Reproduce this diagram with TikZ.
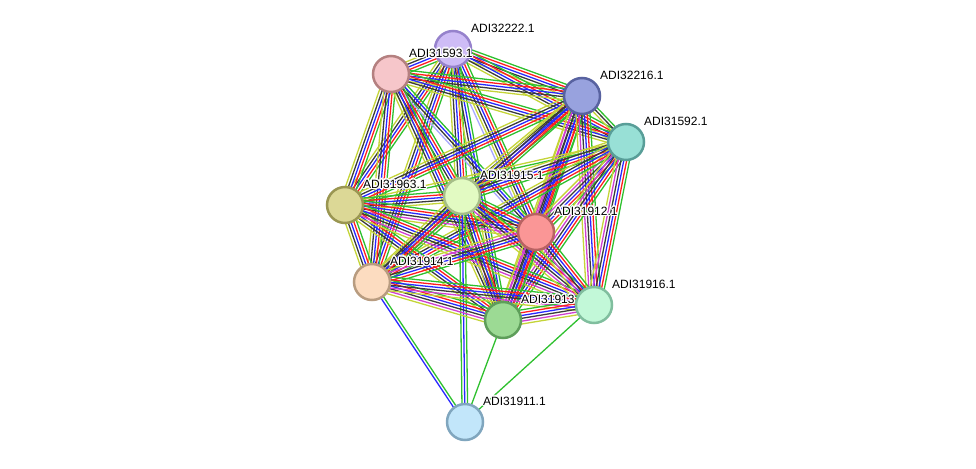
\documentclass[tikz,border=0pt]{standalone}
\usepackage{fontspec}
\setmainfont{Liberation Sans}
\usetikzlibrary{calc}
\pgfdeclarelayer{edges}
\pgfsetlayers{edges,main}
\definecolor{eg}{HTML}{2EC02E}
\definecolor{er}{HTML}{FF1E1E}
\definecolor{eb}{HTML}{2828FF}
\definecolor{ek}{HTML}{3A3A3A}
\definecolor{em}{HTML}{D040D0}
\definecolor{ey}{HTML}{C4D438}
\definecolor{el}{HTML}{A8A8FF}
\newcommand{\bundle}[3]{%
  \foreach \c [count=\i] in {#3} {\xdef\nn{\i}}%
  \foreach \c [count=\i] in {#3} {%
    \pgfmathsetmacro\off{(\i-(\nn+1)/2)*2.8}%
    \draw[conn,\c] ($(#1)!\off pt!90:(#2)$) -- ($(#2)!\off pt!-90:(#1)$);
  }}
\newcommand{\plabel}[2]{%
  \foreach \dx/\dy in {-1.3/0,1.3/0,0/-1.3,0/1.3,-0.9/-0.9,0.9/0.9,-0.9/0.9,0.9/-0.9,-0.6/0,0.6/0,0/0.6,0/-0.6}
    {\node[lbl,white] at ($(#1)+(18+\dx,-21+\dy)$) {#2};}
  \node[lbl] (#1lab) at ($(#1)+(18,-21)$) {#2};}
\tikzset{
  prot/.style={circle, minimum size=36pt, inner sep=0pt, line width=2.5pt},
  lbl/.style={anchor=west, inner sep=0pt, font=\fontsize{12}{14}\selectfont},
  conn/.style={line width=1.3pt}
}
\begin{document}
\begin{tikzpicture}[x=1pt,y=-1pt]
\useasboundingbox (0,0) rectangle (976,468);
\node[prot, fill={rgb,255:red,206;green,188;blue,246}, draw={rgb,255:red,150;green,130;blue,204}] (A) at (453,49) {};
\plabel{A}{ADI32222.1}
\node[prot, fill={rgb,255:red,246;green,198;blue,202}, draw={rgb,255:red,180;green,128;blue,128}] (B) at (391,74) {};
\plabel{B}{ADI31593.1}
\node[prot, fill={rgb,255:red,152;green,162;blue,222}, draw={rgb,255:red,88;green,98;blue,160}] (C) at (582,96) {};
\plabel{C}{ADI32216.1}
\node[prot, fill={rgb,255:red,152;green,224;blue,214}, draw={rgb,255:red,88;green,158;blue,152}] (D) at (626,142) {};
\plabel{D}{ADI31592.1}
\node[prot, fill={rgb,255:red,220;green,216;blue,150}, draw={rgb,255:red,154;green,150;blue,82}] (E) at (345,205) {};
\plabel{E}{ADI31963.1}
\node[prot, fill={rgb,255:red,226;green,250;blue,194}, draw={rgb,255:red,166;green,190;blue,136}] (F) at (462,196) {};
\plabel{F}{ADI31915.1}
\node[prot, fill={rgb,255:red,250;green,150;blue,150}, draw={rgb,255:red,184;green,98;blue,98}] (G) at (536,232) {};
\plabel{G}{ADI31912.1}
\node[prot, fill={rgb,255:red,252;green,220;blue,192}, draw={rgb,255:red,184;green,156;blue,128}] (H) at (372,282) {};
\plabel{H}{ADI31914.1}
\node[prot, fill={rgb,255:red,156;green,218;blue,148}, draw={rgb,255:red,94;green,158;blue,90}] (I) at (503,320) {};
\plabel{I}{ADI31913.1}
\node[prot, fill={rgb,255:red,194;green,248;blue,216}, draw={rgb,255:red,128;green,190;blue,158}] (J) at (594,305) {};
\plabel{J}{ADI31916.1}
\node[prot, fill={rgb,255:red,194;green,230;blue,250}, draw={rgb,255:red,128;green,166;blue,190}] (K) at (465,422) {};
\plabel{K}{ADI31911.1}
\begin{pgfonlayer}{edges}
\bundle{A}{B}{ey,ek,eb,er,eg}
\bundle{A}{C}{ey,ek,eb,er,eg}
\bundle{A}{D}{ey,ek,eb,er,eg}
\bundle{A}{E}{ey,ek,eb,er,eg}
\bundle{A}{F}{ey,ek,eb,er,eg}
\bundle{A}{G}{el,ey,ek,eb,er,eg}
\bundle{A}{H}{ey,ek,eb,er,eg}
\bundle{A}{I}{ey,ek,eb,eg}
\bundle{B}{C}{ey,ek,eb,er,eg}
\bundle{B}{D}{ey,ek,eb,er,eg}
\bundle{B}{E}{ey,ek,eb,er,eg}
\bundle{B}{F}{ey,ek,eb,er,eg}
\bundle{B}{G}{el,ek,eb,eg}
\bundle{B}{H}{ey,ek,eb,er,eg}
\bundle{B}{I}{ey,ek,eb,er,eg}
\bundle{C}{D}{ey,ek,eg}
\bundle{C}{E}{ey,ek,eb,er,eg}
\bundle{C}{F}{ey,ek,eb,er,eg}
\bundle{C}{G}{ey,em,ek,eb,er,eg}
\bundle{C}{H}{ey,ek,eb,er,eg}
\bundle{C}{I}{ey,em,ek,eb,er,eg}
\bundle{C}{J}{ey,em,ek,eb,er,eg}
\bundle{D}{E}{ey,eg}
\bundle{D}{F}{ey,ek,eb,er,eg}
\bundle{D}{G}{ey,em,ek,eb,er,eg}
\bundle{D}{H}{ey,ek,eb,er,eg}
\bundle{D}{I}{ey,em,ek,eb,er,eg}
\bundle{D}{J}{ey,em,ek,eb,er,eg}
\bundle{E}{F}{ey,ek,eb,er,eg}
\bundle{E}{G}{ey,em,ek,eb,er,eg}
\bundle{E}{H}{ey,ek,eb,er,eg}
\bundle{E}{I}{ey,ek,eb,er,eg}
\bundle{E}{J}{ey,em,ek,eb,er,eg}
\bundle{F}{G}{ey,ek,eb,er,eg}
\bundle{F}{H}{ey,ek,eb,er,eg}
\bundle{F}{I}{ey,ek,eb,er,eg}
\bundle{F}{J}{ey,em,ek,eb,er,eg}
\bundle{F}{K}{eg,eb,eg}
\bundle{G}{H}{ey,em,ek,eb,er,eg}
\bundle{G}{I}{ey,em,ek,eb,er,eg}
\bundle{G}{J}{ey,em,ek,eb,er,eg}
\bundle{H}{I}{ey,em,ek,eb,er,eg}
\bundle{H}{J}{ey,em,ek,eb,er,eg}
\bundle{H}{K}{eb,eg}
\bundle{I}{J}{ey,em,ek,eb,er,eg}
\bundle{I}{K}{eg}
\bundle{J}{K}{eg}
\end{pgfonlayer}
\end{tikzpicture}
\end{document}
